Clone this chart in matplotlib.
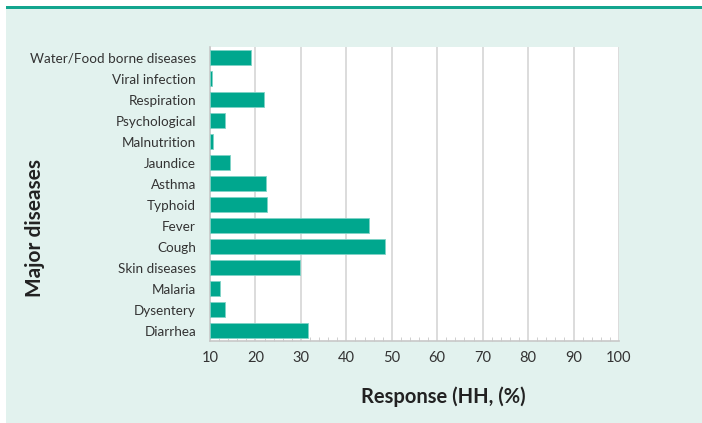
import matplotlib.pyplot as plt
from matplotlib.patches import Rectangle
from matplotlib.ticker import MultipleLocator

diseases = ["Water/Food borne diseases", "Viral infection", "Respiration",
            "Psychological", "Malnutrition", "Jaundice", "Asthma", "Typhoid",
            "Fever", "Cough", "Skin diseases", "Malaria", "Dysentery", "Diarrhea"]
response = [19.1, 10.5, 21.8, 13.4, 10.7, 14.4, 22.3, 22.6,
            45.0, 48.6, 29.7, 12.3, 13.4, 31.5]
x_ticks = [10, 20, 30, 40, 50, 60, 70, 80, 90, 100]

plt.rcParams['font.family'] = ['Lato', 'DejaVu Sans']

W, H = 702, 423
fig = plt.figure(figsize=(W / 100, H / 100), dpi=100)
fig.patch.set_facecolor('white')

# mint panel and teal top rule
fig.patches.append(Rectangle((6 / W, 0), 1 - 6 / W, 1 - 9 / H,
                             transform=fig.transFigure, facecolor='#e2f2ee',
                             edgecolor='none', zorder=-2))
fig.patches.append(Rectangle((6 / W, 1 - 9 / H), 1 - 6 / W, 3 / H,
                             transform=fig.transFigure, facecolor='#13a58e',
                             edgecolor='none', zorder=-2))

left, right, top, bottom = 210, 619, 47, 341
ax = fig.add_axes([left / W, 1 - bottom / H, (right - left) / W, (bottom - top) / H])
ax.set_zorder(2)
ax.set_facecolor('white')

ypos = list(range(len(diseases)))
ax.barh(ypos, [v - 10 for v in response], left=10, height=0.74,
        color='#00a78e', edgecolor='#7fd3c6', linewidth=0.6, zorder=3)

ax.set_ylim(len(diseases) - 0.5, -0.5)
ax.set_yticks(ypos)
ax.set_yticklabels(diseases, fontsize=9.7, color='#333333')
ax.tick_params(axis='y', length=0, pad=10)

ax.set_xlim(10, 100)
ax.set_xticks(x_ticks)
ax.set_xticklabels([str(t) for t in x_ticks], fontsize=10.5, color='#333333')
ax.xaxis.set_minor_locator(MultipleLocator(2))
ax.tick_params(axis='x', which='major', length=0, pad=7)
ax.tick_params(axis='x', which='minor', direction='in', length=3, color='#c8c8c8')
ax.grid(axis='x', color='#d6d6d6', linewidth=1.2, zorder=0)

for s in ['top', 'right']:
    ax.spines[s].set_visible(False)
for s in ['left', 'bottom']:
    ax.spines[s].set_color('#c8c8c8')
    ax.spines[s].set_linewidth(1.2)

fig.text(443 / W, 1 - 397 / H, "Response (HH, (%)", fontsize=14.5,
         fontweight='bold', ha='center', va='center', color='#222222')
fig.text(35 / W, 1 - 228 / H, "Major diseases", fontsize=15,
         fontweight='bold', ha='center', va='center', rotation=90, color='#222222')

fig.savefig('out.png', dpi=100)
